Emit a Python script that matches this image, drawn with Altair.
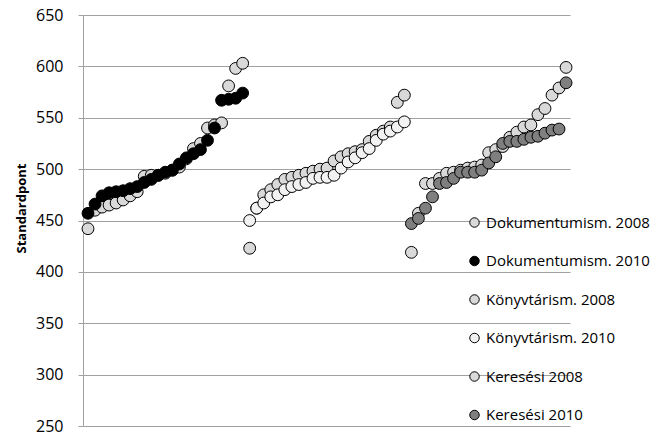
import altair as alt
import pandas as pd

series_names = [
    "Dokumentumism. 2008",
    "Dokumentumism. 2010",
    "Könyvtárism. 2008",
    "Könyvtárism. 2010",
    "Keresési 2008",
    "Keresési 2010",
]
series_colors = ["#d9d9d9", "#000000", "#d9d9d9", "#f2f2f2", "#d9d9d9", "#7f7f7f"]
group_of_series = [0, 0, 1, 1, 2, 2]

dok_2008 = [442, 460, 463, 465, 467, 470, 474, 478, 493, 494, 494, 496, 499, 502, 510, 520, 525, 540, 543, 545, 581, 598, 603]
dok_2010 = [457, 466, 474, 477, 478, 479, 481, 483, 487, 490, 494, 497, 499, 505, 511, 515, 519, 528, 540, 567, 568, 569, 574]
kony_2008 = [423, 462, 475, 480, 485, 490, 492, 494, 496, 498, 500, 501, 508, 512, 515, 517, 519, 527, 533, 537, 541, 565, 572]
kony_2010 = [450, 462, 467, 473, 475, 480, 483, 485, 487, 491, 492, 492, 494, 501, 507, 511, 516, 520, 528, 534, 537, 541, 546]
ker_2008 = [419, 457, 486, 486, 491, 496, 497, 499, 501, 502, 504, 516, 519, 522, 531, 536, 541, 543, 553, 559, 572, 579, 599]
ker_2010 = [447, 452, 462, 473, 486, 487, 491, 497, 497, 497, 499, 506, 512, 525, 527, 527, 529, 531, 532, 535, 538, 539, 584]

all_values = [dok_2008, dok_2010, kony_2008, kony_2010, ker_2008, ker_2010]

rows = []
ordn = 0
for s_idx, vals in enumerate(all_values):
    g = group_of_series[s_idx]
    for i, v in enumerate(vals):
        rows.append({
            "series": series_names[s_idx],
            "x": g * 23 + i + 1,
            "y": v,
            "ord": ordn,
        })
        ordn += 1
df = pd.DataFrame(rows)

FONT = "Open Sans"

chart = alt.Chart(df).mark_circle(
    size=140, stroke="black", strokeWidth=1, opacity=1
).encode(
    x=alt.X("x:Q", axis=None, scale=alt.Scale(domain=[0.29, 69.56], zero=False, nice=False)),
    y=alt.Y(
        "y:Q",
        scale=alt.Scale(domain=[250, 650], nice=False, zero=False),
        axis=alt.Axis(
            title="Standardpont",
            values=[250, 300, 350, 400, 450, 500, 550, 600, 650],
            grid=True,
            gridColor="#a0a0a0",
            gridWidth=1,
            domainColor="#a0a0a0",
            tickColor="#a0a0a0",
            tickSize=5,
            labelPadding=15,
            labelFont=FONT,
            labelFontSize=16,
            labelColor="#000000",
            titleFont=FONT,
            titleFontSize=13,
            titleFontWeight="bold",
            titleColor="#000000",
            titleX=-62,
            titleY=193,
            titleAngle=270,
            titleAlign="center",
            titleBaseline="middle",
        ),
    ),
    fill=alt.Fill(
        "series:N",
        scale=alt.Scale(domain=series_names, range=series_colors),
        legend=alt.Legend(
            title=None,
            orient="none",
            legendX=384,
            legendY=200,
            symbolType="circle",
            symbolSize=90,
            symbolStrokeColor="black",
            symbolStrokeWidth=1,
            symbolOpacity=1,
            labelFont=FONT,
            labelFontSize=15,
            labelColor="#000000",
            labelOffset=4,
            labelLimit=300,
            rowPadding=22.5,
            padding=0,
        ),
    ),
    order=alt.Order("ord:Q"),
).properties(
    width=487,
    height=411,
    autosize=alt.AutoSizeParams(type="none"),
    padding={"left": 75, "top": 7, "right": 89, "bottom": 6},
).configure_view(stroke=None)

chart.save("out.html", embed_options={"renderer": "svg", "actions": False})
